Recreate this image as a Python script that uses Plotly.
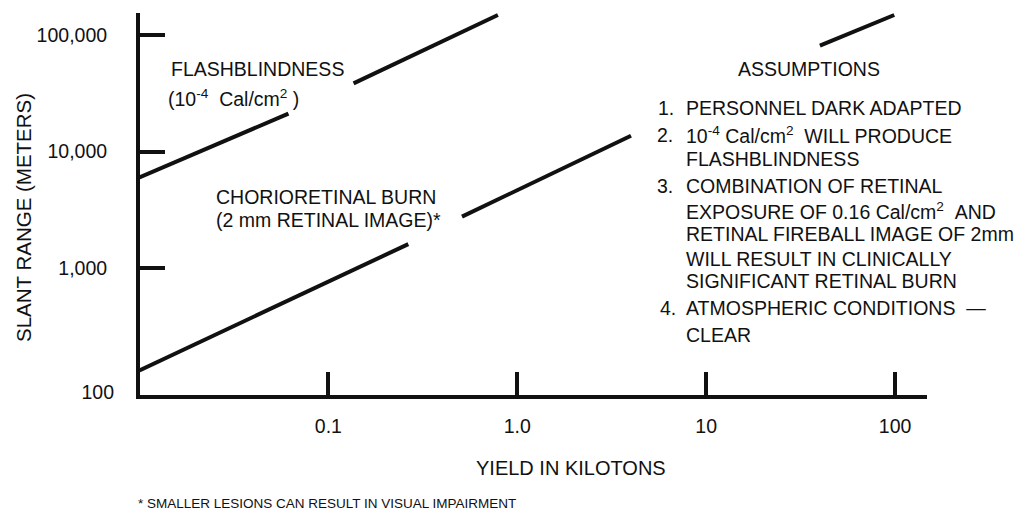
import plotly.graph_objects as go

# ---------------- data ----------------
# Flashblindness threshold (10^-4 Cal/cm^2); gap where the label sits
flash_yield_kt = [0.01, 0.0615, None, 0.136, 0.79]
flash_range_m = [6000, 21200, None, 38500, 148600]

# Chorioretinal burn (2 mm retinal image); gaps around the labels
burn_yield_kt = [0.01, 0.265, None, 0.51, 4.0, None, 40, 99]
burn_range_m = [133, 1610, None, 2770, 13700, None, 81000, 148600]

x_tick_vals = [0.1, 1, 10, 100]
x_tick_text = ["0.1", "1.0", "10", "100"]
y_tick_vals = [1000, 10000, 100000]
y_tick_text = ["1,000", "10,000", "100,000"]
y_floor_val = 87.3          # the drawing puts its "100" at the foot of the axis
y_floor_text = "100"

x_title = "YIELD IN KILOTONS"
y_title = "SLANT RANGE (METERS)"
footnote = "* SMALLER LESIONS CAN RESULT IN VISUAL IMPAIRMENT"

flash_label = ["FLASHBLINDNESS", "(10<sup>-4</sup>\u00a0\u00a0Cal/cm<sup>2</sup>\u00a0)"]
burn_label = ["CHORIORETINAL BURN", "(2 mm RETINAL IMAGE)*"]
assump_title = "ASSUMPTIONS"
assump_nums = ["1.", "2.", "", "3.", "", "", "", "", "4.", ""]
assump_text = [
    "PERSONNEL DARK ADAPTED",
    "10<sup>-4</sup> Cal/cm<sup>2</sup>\u00a0\u00a0WILL PRODUCE",
    "FLASHBLINDNESS",
    "COMBINATION OF RETINAL",
    "EXPOSURE OF 0.16 Cal/cm<sup>2</sup>\u00a0\u00a0AND",
    "RETINAL FIREBALL IMAGE OF 2mm",
    "WILL RESULT IN CLINICALLY",
    "SIGNIFICANT RETINAL BURN",
    "ATMOSPHERIC CONDITIONS\u00a0\u00a0\u2014",
    "CLEAR",
]

# ---------------- layout geometry (window pixels) ----------------
WIN_W, WIN_H = 1026, 510
BODY = 8                      # browser default page margin
W, H = WIN_W - BODY, WIN_H - BODY
PX0, PX1, PY0, PY1 = 140, 927, 13, 395
FONT = "Liberation Sans, Arial, Helvetica, sans-serif"
FS = 19.5
INK = "#111111"


def fx(px):
    return (px - PX0) / (PX1 - PX0)


def fy(py):
    return (PY1 - py) / (PY1 - PY0)


x_range = [-1.997, 2.169]
y_range = [1.9128, 5.189]

fig = go.Figure()
fig.add_trace(go.Scatter(x=flash_yield_kt, y=flash_range_m, mode="lines",
                         line=dict(color=INK, width=4), connectgaps=False,
                         hoverinfo="skip", showlegend=False))
fig.add_trace(go.Scatter(x=burn_yield_kt, y=burn_range_m, mode="lines",
                         line=dict(color=INK, width=4), connectgaps=False,
                         hoverinfo="skip", showlegend=False))
# holder trace so the label-only overlay axis is drawn
fig.add_trace(go.Scatter(x=[x_tick_vals[0]], y=[y_floor_val], yaxis="y2", mode="markers",
                         marker=dict(size=0.1, opacity=0), hoverinfo="skip", showlegend=False))

ann = []


def add(text, px, py, xanchor="left", size=FS, family=FONT, angle=0):
    ann.append(dict(text=text, x=fx(px), y=fy(py), xref="paper", yref="paper",
                    xanchor=xanchor, yanchor="middle", showarrow=False,
                    textangle=angle, font=dict(size=size, family=family, color=INK)))


add(flash_label[0], 169, 69)
add(flash_label[1], 166, 98)
add(burn_label[0], 214, 197)
add(burn_label[1], 214, 220)
add(assump_title, 809, 68.5, xanchor="center")
ys = [108.3, 135, 158.7, 186, 210.7, 234.5, 258.7, 281, 308.3, 334.7]
num_x = [656, 655, 0, 655, 0, 0, 0, 0, 658, 0]
for num, txt, yy, nx in zip(assump_nums, assump_text, ys, num_x):
    if num:
        add(num, nx, yy)
    add(txt, 684, yy)
add(x_title, 570.5, 468, xanchor="center", size=20)
add(y_title, 23, 218, xanchor="center", angle=-90, size=20.5)
add(footnote, 136, 503.5, size=13.5)

fig.update_layout(
    width=W, height=H, autosize=False,
    margin=dict(l=PX0 - BODY, r=W - (PX1 - BODY), t=PY0 - BODY, b=H - (PY1 - BODY), pad=0),
    paper_bgcolor="white", plot_bgcolor="white",
    font=dict(family=FONT, size=FS, color=INK),
    showlegend=False,
    annotations=ann,
    xaxis=dict(type="log", range=x_range, showgrid=False, zeroline=False,
               showline=True, linecolor=INK, linewidth=4,
               ticks="inside", ticklen=23, tickwidth=3.5, tickcolor=INK,
               tickmode="array", tickvals=x_tick_vals, ticktext=x_tick_text,
               ticklabelstandoff=11, tickfont=dict(size=FS, family=FONT, color=INK)),
    yaxis=dict(type="log", range=y_range, showgrid=False, zeroline=False,
               showline=True, linecolor=INK, linewidth=4,
               ticks="inside", ticklen=25, tickwidth=3.5, tickcolor=INK,
               tickmode="array", tickvals=y_tick_vals, ticktext=y_tick_text,
               ticklabelstandoff=25, tickfont=dict(size=FS, family=FONT, color=INK)),
    yaxis2=dict(type="log", range=y_range, overlaying="y", side="left",
                showgrid=False, zeroline=False, showline=False, ticks="",
                tickmode="array", tickvals=[y_floor_val], ticktext=[y_floor_text],
                ticklabelstandoff=25, tickfont=dict(size=FS, family=FONT, color=INK)),
)

fig.write_html("out.html")
